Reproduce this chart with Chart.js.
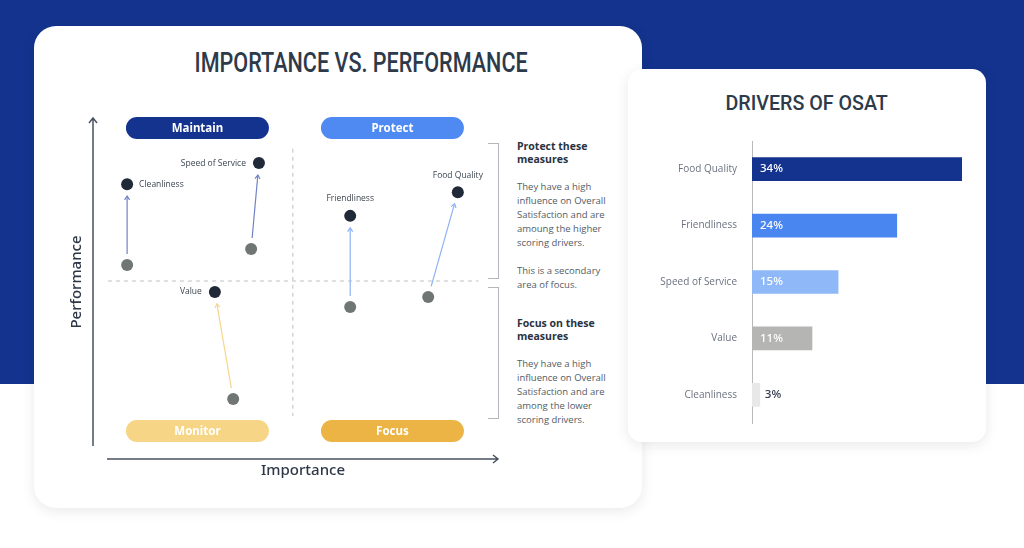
<!DOCTYPE html>
<html lang="en">
<head>
<meta charset="UTF-8" />
<title>Importance vs. Performance / Drivers of OSAT</title>
<script src="https://cdn.jsdelivr.net/npm/chart.js"></script>
<style>
  html, body { margin: 0; padding: 0; }
  body {
    width: 1024px; height: 548px; position: relative; overflow: hidden;
    background: #fff; font-family: "Open Sans", sans-serif;
  }
  .band { position: absolute; left: 0; top: 0; width: 1024px; height: 384px; background: #13338e; }
  .card { position: absolute; background: #fff; box-shadow: 0 3px 14px rgba(0, 0, 0, 0.09); }
  #leftCard { left: 34px; top: 26px; width: 608px; height: 482px; border-radius: 22px; }
  #rightCard { left: 628px; top: 69px; width: 358px; height: 373px; border-radius: 14px; }
  .title {
    position: absolute; text-align: center; color: #2d3a4a; white-space: nowrap;
    font-family: Roboto, sans-serif; font-weight: 500;
  }
  .title span { display: inline-block; transform-origin: 50% 50%; }
  #leftTitle { left: 61px; width: 600px; top: 47px; font-size: 28px; line-height: 32px; }
  #rightTitle { left: 657px; width: 300px; top: 90px; font-size: 21px; line-height: 26px; }
  .bracket { position: absolute; left: 488px; width: 10px; border: 1px solid #b3b7bb; border-left: none; }
  .note { position: absolute; left: 517px; width: 120px; color: #525c66; font-size: 9.5px; line-height: 14px; white-space: nowrap; }
  .note h3 { margin: 0 0 14px 0; font-size: 10.5px; line-height: 13px; color: #2a3340; font-weight: 700; }
  .note p { margin: 0 0 14px 0; }
  .wrap { position: absolute; }
</style>
</head>
<body>
  <div class="band"></div>
  <div class="card" id="leftCard"></div>
  <div class="title" id="leftTitle" data-fit="333"><span>IMPORTANCE VS. PERFORMANCE</span></div>

  <div class="bracket" style="top:143px;height:134px;"></div>
  <div class="bracket" style="top:287px;height:130px;"></div>

  <div class="note" style="top:140px;">
    <h3>Protect these<br>measures</h3>
    <p>They have a high<br>influence on Overall<br>Satisfaction and are<br>amoung the higher<br>scoring drivers.</p>
    <p>This is a secondary<br>area of focus.</p>
  </div>
  <div class="note" style="top:317px;">
    <h3>Focus on these<br>measures</h3>
    <p>They have a high<br>influence on Overall<br>Satisfaction and are<br>among the lower<br>scoring drivers.</p>
  </div>

  <div class="wrap" style="left:40px;top:100px;width:470px;height:380px;">
    <canvas id="matrixChart" width="470" height="380"></canvas>
  </div>

  <div class="card" id="rightCard"></div>
  <div class="title" id="rightTitle" data-fit="162"><span>DRIVERS OF OSAT</span></div>
  <div class="wrap" style="left:640px;top:120px;width:340px;height:324px;">
    <canvas id="osatChart" width="340" height="324"></canvas>
  </div>

<script>
  // ---- data: importance vs performance (0-100 scales) ----
  const DRIVERS = ['Cleanliness', 'Speed of Service', 'Value', 'Friendliness', 'Food Quality'];
  const IMPORTANCE_BEFORE = [4.9, 36.7, 32.1, 62.1, 82.1];
  const PERFORMANCE_BEFORE = [54.2, 59.0, 14.1, 41.6, 44.6];
  const IMPORTANCE_AFTER = [4.9, 38.7, 27.4, 62.1, 89.7];
  const PERFORMANCE_AFTER = [78.4, 84.7, 46.1, 68.9, 76.0];
  const IMPORTANCE_SPLIT = 47.4;
  const PERFORMANCE_SPLIT = 49.4;
  const QUADRANTS = ['Maintain', 'Protect', 'Monitor', 'Focus'];

  // ---- data: drivers of OSAT ----
  const OSAT_DRIVERS = ['Food Quality', 'Friendliness', 'Speed of Service', 'Value', 'Cleanliness'];
  const OSAT_SHARE = [34, 24, 15, 11, 3];

  // ---- styles ----
  const ARROW_COLORS = ['#7083c6', '#7083c6', '#f6d68c', '#8db2f7', '#8db2f7'];
  const LABEL_SIDE = ['right', 'left', 'left', 'top', 'top'];
  const QUAD_COLORS = ['#14338f', '#4f8af3', '#f6d586', '#ebb444'];
  const BAR_COLORS = ['#14338f', '#4a86f0', '#8fb8f8', '#b5b5b3', '#e8e8e8'];

  const toPoints = (xs, ys) => xs.map((x, i) => ({ x: x, y: ys[i] }));

  // squeeze the headings to the condensed width of the original
  document.querySelectorAll('[data-fit]').forEach(el => {
    const span = el.querySelector('span');
    const k = Number(el.dataset.fit) / span.offsetWidth;
    span.style.transform = 'scaleX(' + k + ')';
  });

  function drawArrow(ctx, x1, y1, x2, y2, color) {
    const dx = x2 - x1, dy = y2 - y1;
    const d = Math.hypot(dx, dy);
    const ux = dx / d, uy = dy / d;
    const sx = x1 + ux * 11, sy = y1 + uy * 11;
    const ex = x2 - ux * 12, ey = y2 - uy * 12;
    ctx.strokeStyle = color;
    ctx.lineWidth = 1.2;
    ctx.beginPath();
    ctx.moveTo(sx, sy);
    ctx.lineTo(ex, ey);
    ctx.stroke();
    const a = Math.atan2(uy, ux);
    ctx.beginPath();
    ctx.moveTo(ex - 4.5 * Math.cos(a - 0.6), ey - 4.5 * Math.sin(a - 0.6));
    ctx.lineTo(ex, ey);
    ctx.lineTo(ex - 4.5 * Math.cos(a + 0.6), ey - 4.5 * Math.sin(a + 0.6));
    ctx.stroke();
  }

  function pill(ctx, cx, cy, w, h, color, text) {
    const r = h / 2;
    ctx.fillStyle = color;
    ctx.beginPath();
    ctx.moveTo(cx - w / 2 + r, cy - r);
    ctx.lineTo(cx + w / 2 - r, cy - r);
    ctx.arc(cx + w / 2 - r, cy, r, -Math.PI / 2, Math.PI / 2);
    ctx.lineTo(cx - w / 2 + r, cy + r);
    ctx.arc(cx - w / 2 + r, cy, r, Math.PI / 2, Math.PI * 1.5);
    ctx.fill();
    ctx.fillStyle = '#fff';
    ctx.font = '700 11.5px "Noto Sans"';
    ctx.textAlign = 'center';
    ctx.textBaseline = 'middle';
    ctx.fillText(text, cx, cy + 0.5);
  }

  const matrixDecor = {
    id: 'matrixDecor',
    beforeDatasetsDraw(chart) {
      const { ctx, chartArea: ca, scales: { x, y } } = chart;
      ctx.save();
      // quadrant dividers
      ctx.strokeStyle = '#c2c2c2';
      ctx.lineWidth = 1;
      ctx.setLineDash([4, 4]);
      ctx.beginPath();
      ctx.moveTo(x.getPixelForValue(IMPORTANCE_SPLIT), y.getPixelForValue(89));
      ctx.lineTo(x.getPixelForValue(IMPORTANCE_SPLIT), y.getPixelForValue(9));
      ctx.moveTo(x.getPixelForValue(0), y.getPixelForValue(PERFORMANCE_SPLIT));
      ctx.lineTo(x.getPixelForValue(95), y.getPixelForValue(PERFORMANCE_SPLIT));
      ctx.stroke();
      ctx.setLineDash([]);
      // movement arrows
      DRIVERS.forEach((d, i) => {
        drawArrow(ctx,
          x.getPixelForValue(IMPORTANCE_BEFORE[i]), y.getPixelForValue(PERFORMANCE_BEFORE[i]),
          x.getPixelForValue(IMPORTANCE_AFTER[i]), y.getPixelForValue(PERFORMANCE_AFTER[i]),
          ARROW_COLORS[i]);
      });
      // quadrant pills
      const leftMid = x.getPixelForValue(IMPORTANCE_SPLIT / 2);
      const rightMid = x.getPixelForValue((IMPORTANCE_SPLIT + 100) / 2);
      const centers = [[leftMid, ca.top + 16], [rightMid, ca.top + 16], [leftMid, ca.bottom - 15], [rightMid, ca.bottom - 15]];
      QUADRANTS.forEach((q, i) => pill(ctx, centers[i][0] - 3, centers[i][1], 143, 22, QUAD_COLORS[i], q));
      // axes with arrow heads
      ctx.strokeStyle = '#4a5260';
      ctx.lineWidth = 1.5;
      const ax = ca.left - 15, ay = ca.bottom + 13;
      ctx.beginPath();
      ctx.moveTo(ax, ca.bottom);
      ctx.lineTo(ax, ca.top + 6);
      ctx.moveTo(ax - 4, ca.top + 11);
      ctx.lineTo(ax, ca.top + 6);
      ctx.lineTo(ax + 4, ca.top + 11);
      ctx.moveTo(ca.left - 1, ay);
      ctx.lineTo(ca.right, ay);
      ctx.moveTo(ca.right - 5, ay - 4);
      ctx.lineTo(ca.right, ay);
      ctx.lineTo(ca.right - 5, ay + 4);
      ctx.stroke();
      ctx.fillStyle = '#2d3748';
      ctx.font = '500 15px "Noto Sans"';
      ctx.textAlign = 'center';
      ctx.textBaseline = 'middle';
      ctx.fillText('Importance', (ca.left + ca.right) / 2, ay + 12);
      ctx.save();
      ctx.translate(ax - 16, (ca.top + ca.bottom) / 2 + 3);
      ctx.rotate(-Math.PI / 2);
      ctx.fillText('Performance', 0, 0);
      ctx.restore();
      ctx.restore();
    },
    afterDatasetsDraw(chart) {
      const { ctx, scales: { x, y } } = chart;
      ctx.save();
      ctx.fillStyle = '#3d4650';
      ctx.font = '8.5px "Open Sans"';
      ctx.textBaseline = 'middle';
      DRIVERS.forEach((d, i) => {
        const px = x.getPixelForValue(IMPORTANCE_AFTER[i]);
        const py = y.getPixelForValue(PERFORMANCE_AFTER[i]);
        if (LABEL_SIDE[i] === 'right') { ctx.textAlign = 'left'; ctx.fillText(d, px + 12, py); }
        else if (LABEL_SIDE[i] === 'left') { ctx.textAlign = 'right'; ctx.fillText(d, px - 13, py); }
        else { ctx.textAlign = 'center'; ctx.fillText(d, px, py - 17); }
      });
      ctx.restore();
    }
  };

  const barLabels = {
    id: 'barLabels',
    afterDatasetsDraw(chart) {
      const { ctx, chartArea: ca } = chart;
      const meta = chart.getDatasetMeta(0);
      ctx.save();
      ctx.font = '500 11.5px "Noto Sans"';
      ctx.textAlign = 'left';
      ctx.textBaseline = 'middle';
      meta.data.forEach((bar, i) => {
        const txt = OSAT_SHARE[i] + '%';
        if (bar.x - ca.left < 30) {
          ctx.fillStyle = '#2d3748';
          ctx.fillText(txt, bar.x + 5, bar.y);
        } else {
          ctx.fillStyle = '#fff';
          ctx.fillText(txt, ca.left + 8, bar.y);
        }
      });
      ctx.restore();
    }
  };

  window.addEventListener('DOMContentLoaded', () => {
    new Chart(document.getElementById('matrixChart'), {
      type: 'scatter',
      data: {
        datasets: [
          { label: 'Before', data: toPoints(IMPORTANCE_BEFORE, PERFORMANCE_BEFORE),
            backgroundColor: '#6f7673', pointRadius: 6, borderWidth: 0, clip: false },
          { label: 'After', data: toPoints(IMPORTANCE_AFTER, PERFORMANCE_AFTER),
            backgroundColor: '#1f2937', pointRadius: 6, borderWidth: 0, clip: false }
        ]
      },
      options: {
        responsive: false,
        animation: false,
        layout: { padding: { left: 68, right: 12, top: 12, bottom: 34 } },
        scales: {
          x: { display: false, min: 0, max: 100 },
          y: { display: false, min: 0, max: 100 }
        },
        plugins: { legend: { display: false }, tooltip: { enabled: false } }
      },
      plugins: [matrixDecor]
    });

    new Chart(document.getElementById('osatChart'), {
      type: 'bar',
      data: {
        labels: OSAT_DRIVERS,
        datasets: [{ data: OSAT_SHARE, backgroundColor: BAR_COLORS, barThickness: 23, borderWidth: 0 }]
      },
      options: {
        indexAxis: 'y',
        responsive: false,
        animation: false,
        layout: { padding: { top: 10, right: 18, bottom: 8, left: 0 } },
        scales: {
          x: { display: false, min: 1.8, max: 34 },
          y: {
            grid: { display: false, drawTicks: false },
            border: { display: true, color: '#b9b9b9', width: 1 },
            ticks: { padding: 15, color: '#6b7280', font: { family: 'Open Sans', size: 10 } },
            afterFit(scale) { scale.width = 112; }
          }
        },
        plugins: { legend: { display: false }, tooltip: { enabled: false } }
      },
      plugins: [barLabels]
    });
  });
</script>
</body>
</html>
